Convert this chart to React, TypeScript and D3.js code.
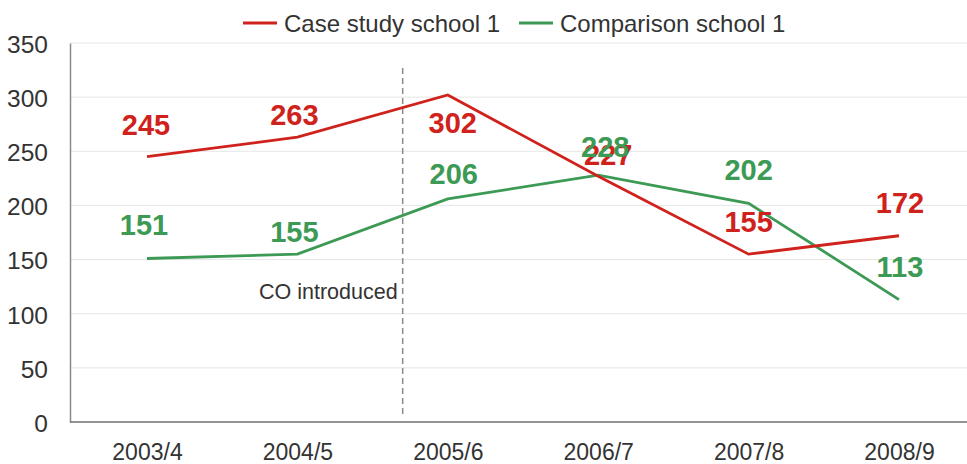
import * as d3 from 'd3';
import { useEffect, useRef } from 'react';

const categories = ['2003/4', '2004/5', '2005/6', '2006/7', '2007/8', '2008/9'];
const caseStudy = [245, 263, 302, 227, 155, 172];
const comparison = [151, 155, 206, 228, 202, 113];
const yTicks = [0, 50, 100, 150, 200, 250, 300, 350];
const seriesNames = ['Case study school 1', 'Comparison school 1'];

// label placement relative to each point (baseline offsets, px)
const caseLabelDx = [-1, -3, 5, 10, 0, 1];
const caseLabelDy = [-22, -12, 38, -11, -22, -23];
const compLabelDx = [-3, -3, 6, 7, 0, 1];
const compLabelDy = [-23, -12, -15, -18, -23, -23];

const RED = '#d0221c';
const GREEN = '#3d9a55';

export default function App() {
    const ref = useRef<SVGSVGElement>(null);

    useEffect(() => {
        const width = 967;
        const height = 464;
        const left = 70;
        const bottom = 422;
        const top = 43;

        const svg = d3.select(ref.current);
        svg.selectAll('*').remove();
        svg.attr('width', width).attr('height', height);

        const x = d3.scalePoint<string>().domain(categories).range([147, 899]);
        const y = d3.scaleLinear().domain([0, 350]).range([bottom, top]);
        const font = 'Liberation Sans, Arial, sans-serif';

        // grid
        svg.append('g')
            .selectAll('line')
            .data(yTicks.filter(d => d > 0))
            .join('line')
            .attr('x1', left)
            .attr('x2', width)
            .attr('y1', d => y(d))
            .attr('y2', d => y(d))
            .attr('stroke', '#e6e6e6')
            .attr('stroke-width', 1);

        // axes
        const yAxis = svg.append('g')
            .attr('transform', `translate(${left},0)`)
            .call(d3.axisLeft(y).tickValues(yTicks).tickSize(0).tickPadding(22));
        yAxis.select('.domain').attr('stroke', '#8a8a8a').attr('stroke-width', 1.5);
        yAxis.selectAll('text')
            .attr('font-family', font)
            .attr('font-size', 24.5)
            .attr('dy', '0.38em')
            .attr('fill', '#333');

        const xAxis = svg.append('g')
            .attr('transform', `translate(0,${bottom})`)
            .call(d3.axisBottom(x).tickSize(0).tickPadding(22));
        xAxis.select('.domain').remove();
        xAxis.append('line')
            .attr('x1', left)
            .attr('x2', width)
            .attr('stroke', '#6f6f6f')
            .attr('stroke-width', 1.5);
        xAxis.selectAll('text')
            .attr('font-family', font)
            .attr('font-size', 23)
            .attr('fill', '#333');

        // intervention marker
        const step = x.step();
        const markX = (x('2004/5') ?? 0) + 0.7 * step;
        svg.append('line')
            .attr('x1', markX)
            .attr('x2', markX)
            .attr('y1', 68)
            .attr('y2', bottom - 4)
            .attr('stroke', '#8a8a8a')
            .attr('stroke-width', 1.5)
            .attr('stroke-dasharray', '6,4');
        svg.append('text')
            .attr('x', markX - 5)
            .attr('y', 299)
            .attr('text-anchor', 'end')
            .attr('font-family', font)
            .attr('font-size', 21.5)
            .attr('fill', '#333')
            .text('CO introduced');

        const line = d3.line<number>()
            .x((_, i) => x(categories[i]) ?? 0)
            .y(d => y(d));

        const series = [
            { values: comparison, color: GREEN, dx: compLabelDx, dy: compLabelDy },
            { values: caseStudy, color: RED, dx: caseLabelDx, dy: caseLabelDy },
        ];

        series.forEach(s => {
            svg.append('path')
                .datum(s.values)
                .attr('fill', 'none')
                .attr('stroke', s.color)
                .attr('stroke-width', 2.8)
                .attr('d', line);
        });

        // labels: red first, green drawn on top (as in the original)
        [series[1], series[0]].forEach(s => {
            svg.append('g')
                .selectAll('text')
                .data(s.values)
                .join('text')
                .attr('x', (_, i) => (x(categories[i]) ?? 0) + s.dx[i])
                .attr('y', (d, i) => y(d) + s.dy[i])
                .attr('text-anchor', 'middle')
                .attr('font-family', font)
                .attr('font-weight', 'bold')
                .attr('font-size', 29)
                .attr('fill', s.color)
                .text(d => d);
        });

        // legend
        const legend = svg.append('g');
        const legendItems = [
            { name: seriesNames[0], color: RED, x: 243 },
            { name: seriesNames[1], color: GREEN, x: 519 },
        ];
        legendItems.forEach(item => {
            legend.append('line')
                .attr('x1', item.x)
                .attr('x2', item.x + 34)
                .attr('y1', 23)
                .attr('y2', 23)
                .attr('stroke', item.color)
                .attr('stroke-width', 3);
            legend.append('text')
                .attr('x', item.x + 41)
                .attr('y', 32)
                .attr('font-family', font)
                .attr('font-size', 24)
                .attr('fill', '#333')
                .text(item.name);
        });
    }, []);

    return (
        <div style={{ position: 'absolute', left: 0, top: 0 }}>
            <svg ref={ref} style={{ display: 'block' }} />
        </div>
    );
}
